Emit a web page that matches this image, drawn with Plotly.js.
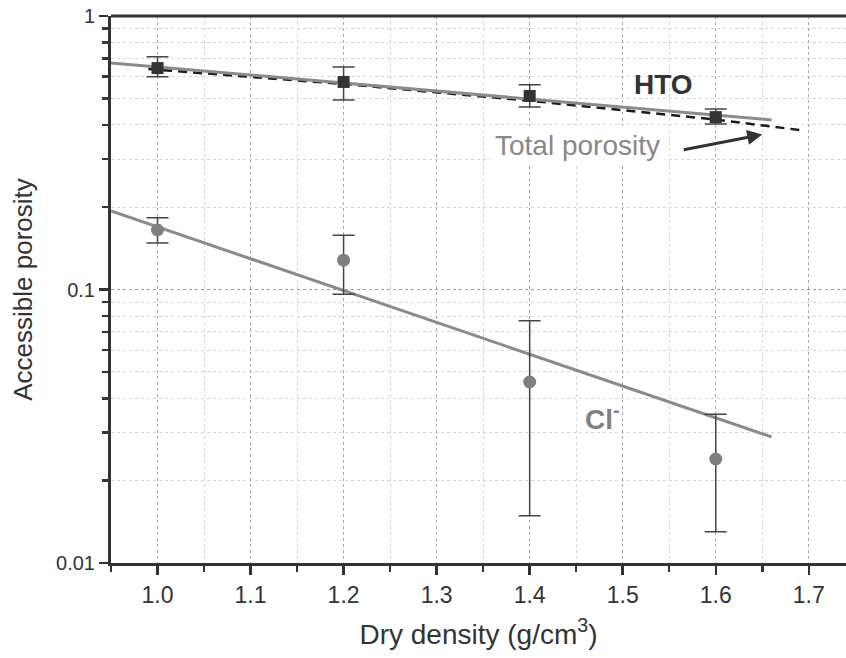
<!DOCTYPE html>
<html><head><meta charset="utf-8">
<script src="https://cdn.plot.ly/plotly-3.0.1.min.js"></script>
<style>html,body{margin:0;padding:0;background:#fff;overflow:hidden}</style>
</head><body><div id="chart" style="width:846px;height:658px"></div>
<script>
// Data
const density = [1.0, 1.2, 1.4, 1.6];
const htoPorosity = [0.645, 0.574, 0.51, 0.427];
const htoErrPlus = [0.065, 0.077, 0.05, 0.03];
const htoErrMinus = [0.045, 0.081, 0.045, 0.024];
const clPorosity = [0.165, 0.128, 0.0459, 0.024];
const clErrPlus = [0.018, 0.030, 0.031, 0.011];
const clErrMinus = [0.017, 0.032, 0.031, 0.011];
const htoFitX = [0.95, 1.66];
const htoFitY = [0.673, 0.417];
const clFitX = [0.95, 1.66];
const clFitY = [0.1936, 0.0289];
const totalX = [0.99, 1.2, 1.4, 1.6, 1.69];
const totalY = [0.64, 0.564, 0.49, 0.418, 0.383];
const xTickVals = [1.0, 1.1, 1.2, 1.3, 1.4, 1.5, 1.6, 1.7];
const xTickText = ['1.0', '1.1', '1.2', '1.3', '1.4', '1.5', '1.6', '1.7'];
const yTickVals = [0.01, 0.1, 1];
const yTickText = ['0.01', '0.1', '1'];

const traces = [
  {x: totalX, y: totalY, mode: 'lines', line: {color: '#1a1a1a', width: 2.5, dash: '9px,6px'}, hoverinfo: 'skip'},
  {x: htoFitX, y: htoFitY, mode: 'lines', line: {color: '#8a8a8a', width: 3}},
  {x: clFitX, y: clFitY, mode: 'lines', line: {color: '#8a8a8a', width: 3}},
  {x: density, y: htoPorosity, mode: 'markers', marker: {symbol: 'square', size: 12, color: '#333'},
   error_y: {type: 'data', symmetric: false, array: htoErrPlus, arrayminus: htoErrMinus, color: '#444', thickness: 1.5, width: 11}},
  {x: density, y: clPorosity, mode: 'markers', marker: {symbol: 'circle', size: 13, color: '#7f7f7f'},
   error_y: {type: 'data', symmetric: false, array: clErrPlus, arrayminus: clErrMinus, color: '#444', thickness: 1.5, width: 11}}
];

const sans = 'Liberation Sans, Arial, sans-serif';
const layout = {
  width: 846, height: 658,
  margin: {l: 111, r: 0, t: 16, b: 95},
  showlegend: false,
  paper_bgcolor: '#fff', plot_bgcolor: '#fff',
  xaxis: {
    range: [0.95, 1.74], tickvals: xTickVals, ticktext: xTickText,
    showline: true, linecolor: '#333', linewidth: 3, mirror: false,
    ticks: 'outside', ticklen: 9, tickwidth: 2.5, tickcolor: '#333',
    tickfont: {family: sans, size: 23, color: '#333'},
    showgrid: true, gridcolor: '#aaa', griddash: 'dot', gridwidth: 1,
    minor: {dtick: 0.05, tick0: 0.95, ticks: 'outside', ticklen: 6, tickwidth: 2.5, tickcolor: '#333', showgrid: true, gridcolor: '#d4d4d4', griddash: 'dot'},
    zeroline: false,
    title: {text: 'Dry density (g/cm<sup>3</sup>)', font: {family: sans, size: 28, color: '#333'}, standoff: 18}
  },
  yaxis: {
    type: 'log', range: [-2, 0], tickvals: yTickVals, ticktext: yTickText,
    showline: true, linecolor: '#333', linewidth: 3,
    ticks: 'outside', ticklen: 9, tickwidth: 2.5, tickcolor: '#333',
    tickfont: {family: sans, size: 20, color: '#333'},
    showgrid: true, gridcolor: '#999', griddash: 'dot', gridwidth: 1,
    minor: {dtick: 'D1', ticks: 'outside', ticklen: 6, tickwidth: 2.5, tickcolor: '#333', showgrid: true, gridcolor: '#d4d4d4', griddash: 'dot'},
    zeroline: false,
    title: {text: 'Accessible porosity', font: {family: sans, size: 26, color: '#333'}, standoff: 16}
  },
  shapes: [
    {type: 'line', xref: 'paper', yref: 'paper', x0: 0, x1: 1, y0: 1, y1: 1, line: {color: '#333', width: 3}}
  ],
  annotations: [
    {x: 1.51, y: -0.252, xref: 'x', yref: 'y', text: '<b>HTO</b>', showarrow: false, xanchor: 'left', yanchor: 'middle',
     font: {family: sans, size: 28, color: '#333'}},
    {x: 1.357, y: -0.475, xref: 'x', yref: 'y', text: 'Total porosity', showarrow: false, xanchor: 'left', yanchor: 'middle',
     font: {family: sans, size: 28, color: '#888'}, bgcolor: '#fff', borderpad: 4},
    {x: 1.650, y: -0.433, xref: 'x', yref: 'y', ax: 1.564, ay: -0.49, axref: 'x', ayref: 'y', text: '', showarrow: true,
     arrowhead: 2, arrowsize: 1, arrowwidth: 3, arrowcolor: '#333'},
    {x: 1.457, y: -1.466, xref: 'x', yref: 'y', text: '<b>Cl<sup>-</sup></b>', showarrow: false, xanchor: 'left', yanchor: 'middle',
     font: {family: sans, size: 28, color: '#808080'}}
  ]
};
Plotly.newPlot('chart', traces, layout, {displayModeBar: false, staticPlot: true});
</script>
</body></html>
